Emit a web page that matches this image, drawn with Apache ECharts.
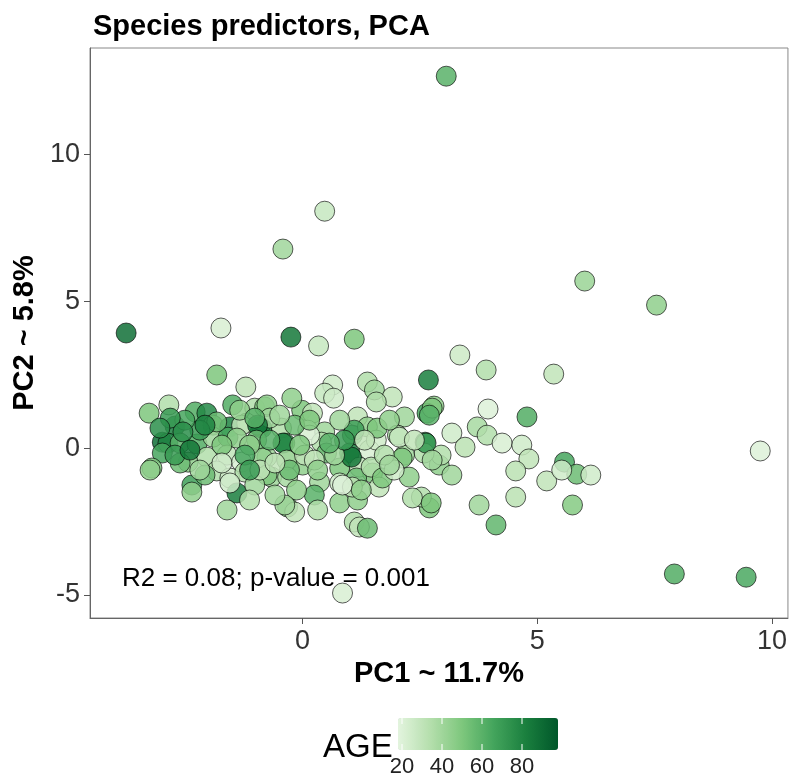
<!DOCTYPE html>
<html>
<head>
<meta charset="utf-8">
<script src="https://cdn.jsdelivr.net/npm/echarts@6/dist/echarts.min.js"></script>
<style>
  html, body { margin: 0; padding: 0; background: #fff; }
  #main { width: 790px; height: 780px; }
</style>
</head>
<body>
<div id="main"></div>
<script>
// PCA scores (PC1, PC2) with the AGE of each sample
let pc1 = [3.06, 0.47, -0.42, 6.01, 7.54, -3.76, -1.74, -0.25, 0.34, 1.10, 3.35, 5.35, 3.91, 2.68, 9.75, 7.92, 9.45, 0.85,
  2.80, 2.65, 3.95, 4.78, 3.18, 3.72, 3.93, 3.46, 4.25, 4.67, 4.82, 4.54, 5.20, 5.58, 5.84, 6.14, 5.52, 4.54, 5.75, 3.76, 4.12, 2.70,
  2.61, 2.91, 2.95, 3.18, 2.59, 2.53,
  -1.83, -1.21, -1.49, -1.02, -2.85, -3.27, -2.29, -2.04, -2.72, -1.91, -1.55, -1.19, -0.91, -2.99, -2.87, -2.61, -2.25, -1.91, -1.59,
  -2.99, -2.44, -2.04, -1.61, -1.30, -3.21, -2.61, -1.83, -1.55, -1.23, -2.36, -2.36, -1.40, -1.61, -1.83,
  0.64, 0.47, 0.66, 1.38, 1.53, 1.91, 1.57, -0.81, -0.02, 0.21, 1.17, 2.17, 2.76, -0.87, -0.45, -0.38, 0.11, 0.47, 0.40, 1.06, 1.38,
  1.00, 1.42, 1.57, 2.02, 2.17, 2.63, 2.76, -0.76, -0.32, 0.00, 0.79, 1.21, 1.49, 1.63, 2.27, -0.66, 0.36, 0.79, 1.15, 0.25, 0.79,
  1.17, -0.32, -0.17, 0.32, 2.34, 1.10, 1.21, 1.38,
  -0.76, -0.70, -1.30, -0.96, 0.15, 1.10, -1.40, -0.98, -0.42, -0.85, -0.34, 0.04, 0.51, -0.76, -0.32, -0.13, -0.38, 2.70, 1.59, 2.06,
  1.04, 1.46, 2.12, 1.70, 1.06, 2.74, -3.25, -1.55, 0.85,
  -2.19, -2.51, -1.72, -1.13, -0.70, -0.17, -0.06, 0.25, 0.68, -0.28, -1.02, -2.08, -2.72, 1.95, 1.74, 2.38, 1.85, 0.79, 0.89, -0.91,
  -0.59, -1.13,
  -2.82, -2.55, -2.08, -1.34, -1.02, -0.49, -0.23, -1.72, -2.19, -1.23, -0.59, 0.32, 0.57, 0.15, 1.32, 1.85, 1.25, -1.13, -3.04, -2.40];
let pc2 = [12.67, 8.07, 6.78, 5.69, 4.87, 3.92, 4.09, 3.78, 3.48, 3.71, 3.17, 2.52, 2.66, 2.32, -0.10, -4.29, -4.40, -4.94,
  1.43, 1.19, 1.33, 1.06, 0.51, 0.72, 0.44, 0.03, 0.17, 0.10, -0.37, -0.78, -1.12, -0.48, -0.89, -0.92, -0.75, -1.67, -1.94, -1.94, -2.62, -2.04,
  0.20, -0.58, -0.24, -0.92, -0.17, -1.67,
  2.49, 2.08, 1.47, 1.36, 1.47, 1.19, 1.23, 1.19, 0.75, 0.78, 0.72, 0.85, 0.72, 0.20, 0.17, 0.17, 0.14, 0.37, 0.37,
  -0.17, -0.48, -0.31, -0.24, -0.48, -0.68, -0.51, -0.78, -1.02, -0.82, -1.26, -1.50, -1.53, -2.11, 0.89,
  2.15, 1.87, 1.70, 2.25, 1.98, 1.74, 1.57, 1.40, 1.29, 1.19, 1.06, 1.06, 1.36, 0.68, 0.68, 0.17, 0.61, 0.55, 0.20, 0.44, 0.72,
  -0.17, -0.07, 0.27, 0.44, -0.24, 0.17, -0.41, -0.31, -0.41, -0.58, -0.68, -0.65, -0.85, -1.33, -0.99, -0.99, -1.16, -1.19, -1.02, -1.60, -1.87,
  -1.77, -2.01, -2.18, -2.11, -1.70, -2.52, -2.69, -2.73,
  1.47, 1.02, 0.78, 0.78, 0.44, 0.61, 0.34, 0.27, 0.17, -0.34, -0.41, -0.24, -0.17, -0.92, -0.99, -1.43, -1.94, 1.12, 0.68, 0.37,
  -0.31, -0.65, -0.34, -1.02, -1.33, -1.87, -0.75, -1.19, -1.26,
  0.61, 0.95, 0.10, 0.10, 0.27, 0.78, 0.10, -0.41, -0.24, -0.75, -1.26, -0.92, -0.24, -0.75, -0.24, 0.27, 0.95, 0.95, 0.27, -0.75,
  -1.60, -1.77,
  1.02, 0.55, 0.78, 1.29, 1.02, 1.12, 1.70, -0.51, -0.75, -0.24, -0.51, -0.75, 0.17, 0.95, 0.27, -0.58, -1.43, -0.75, 0.68, -0.07];
let age = [60, 28, 40, 42, 45, 88, 22, 85, 28, 50, 26, 30, 35, 82, 20, 62, 64, 22,
  45, 65, 20, 62, 25, 38, 35, 32, 22, 25, 30, 32, 30, 65, 55, 25, 25, 32, 48, 40, 58, 50,
  78, 45, 35, 40, 35, 35,
  50, 30, 62, 35, 35, 50, 62, 78, 82, 55, 80, 30, 75, 88, 80, 60, 62, 40, 65,
  65, 45, 35, 30, 22, 50, 55, 35, 25, 35, 68, 45, 82, 40, 55,
  25, 28, 25, 35, 40, 30, 35, 50, 50, 30, 30, 40, 50, 80, 35, 65, 22, 40, 35, 65, 45,
  80, 22, 25, 38, 40, 70, 40, 40, 35, 45, 50, 30, 50, 30, 45, 40, 40, 25, 55, 60, 45,
  45, 50, 30, 35, 35, 35, 30, 55,
  45, 40, 30, 85, 20, 68, 45, 55, 80, 45, 40, 30, 55, 50, 38, 45, 40, 60, 50, 28,
  85, 35, 50, 50, 32, 50, 45, 25, 20,
  70, 65, 50, 45, 60, 55, 50, 30, 40, 55, 40, 55, 70, 25, 35, 30, 45, 40, 70, 30,
  40, 35,
  70, 75, 80, 45, 60, 40, 45, 25, 40, 65, 30, 45, 60, 50, 30, 40, 45, 70, 75, 85];

let xTicks = [0, 5, 10];
let yTicks = [-5, 0, 5, 10];
let ageTicks = [20, 40, 60, 80];

let chartDom = document.getElementById('main');
let myChart = echarts.init(chartDom);
let option;

let font = "'Liberation Sans', Arial, sans-serif";
let ageMin = 18, ageMax = 98;
let barLeft = 398, barTop = 718, barLen = 160, barThick = 32;

let points = pc1.map(function (x, i) {
  return [x, pc2[i], age[i]];
});

// white tick marks on the colour bar + the labels under it
let legendMarks = [];
ageTicks.forEach(function (a) {
  let px = barLeft + (a - ageMin) / (ageMax - ageMin) * barLen;
  legendMarks.push({
    type: 'line', z: 100,
    shape: {x1: px, y1: barTop, x2: px, y2: barTop + 6},
    style: {stroke: '#fff', lineWidth: 1}
  });
  legendMarks.push({
    type: 'line', z: 100,
    shape: {x1: px, y1: barTop + barThick - 6, x2: px, y2: barTop + barThick},
    style: {stroke: '#fff', lineWidth: 1}
  });
  legendMarks.push({
    type: 'text', z: 100,
    x: px, y: 756,
    style: {text: String(a), font: '22px ' + font, fill: '#222', align: 'center', verticalAlign: 'top'}
  });
});

option = {
  animation: false,
  title: {
    text: 'Species predictors, PCA',
    left: 88,
    top: 7,
    textStyle: {fontFamily: font, fontSize: 29, fontWeight: 'bold', color: '#000'}
  },
  grid: {
    left: 90,
    right: 1,
    top: 48,
    bottom: 162,
    show: true,
    borderColor: '#888',
    borderWidth: 1
  },
  xAxis: {
    type: 'value',
    min: -4.53,
    max: 10.34,
    name: 'PC1 ~ 11.7%',
    nameLocation: 'middle',
    nameGap: 40,
    nameTextStyle: {fontFamily: font, fontSize: 29, fontWeight: 'bold', color: '#000'},
    axisLine: {onZero: false, lineStyle: {color: '#666'}},
    axisTick: {show: true, length: 6, customValues: xTicks, lineStyle: {color: '#555'}},
    axisLabel: {customValues: xTicks, fontFamily: font, fontSize: 27, color: '#333', margin: 10},
    splitLine: {show: false}
  },
  yAxis: {
    type: 'value',
    min: -5.79,
    max: 13.63,
    name: 'PC2 ~ 5.8%',
    nameLocation: 'middle',
    nameGap: 46,
    nameTextStyle: {fontFamily: font, fontSize: 29, fontWeight: 'bold', color: '#000'},
    axisLine: {onZero: false, lineStyle: {color: '#666'}},
    axisTick: {show: true, length: 6, customValues: yTicks, lineStyle: {color: '#555'}},
    axisLabel: {customValues: yTicks, fontFamily: font, fontSize: 27, color: '#333', margin: 10},
    splitLine: {show: false}
  },
  visualMap: {
    type: 'continuous',
    dimension: 2,
    min: ageMin,
    max: ageMax,
    orient: 'horizontal',
    left: barLeft,
    top: barTop,
    padding: 0,
    itemWidth: barThick,
    itemHeight: barLen,
    calculable: false,
    hoverLink: false,
    text: null,
    inRange: {
      color: ['#e3f4de', '#b5dfad', '#7ec77d', '#43a45c', '#1a7f3e', '#00572a']
    }
  },
  graphic: [
    {
      type: 'text',
      left: 122, top: 566,
      style: {text: 'R2 = 0.08; p-value = 0.001', font: '26px ' + font, fill: '#000'}
    },
    {
      type: 'text',
      left: 323, top: 731,
      style: {text: 'AGE', font: '33px ' + font, fill: '#000'}
    }
  ].concat(legendMarks),
  series: [
    {
      type: 'scatter',
      data: points,
      symbolSize: 20,
      itemStyle: {
        opacity: 0.85,
        borderColor: 'rgba(0,0,0,0.75)',
        borderWidth: 1
      }
    }
  ]
};

myChart.setOption(option);
window.addEventListener('resize', () => {
  myChart.resize();
});
</script>
</body>
</html>
